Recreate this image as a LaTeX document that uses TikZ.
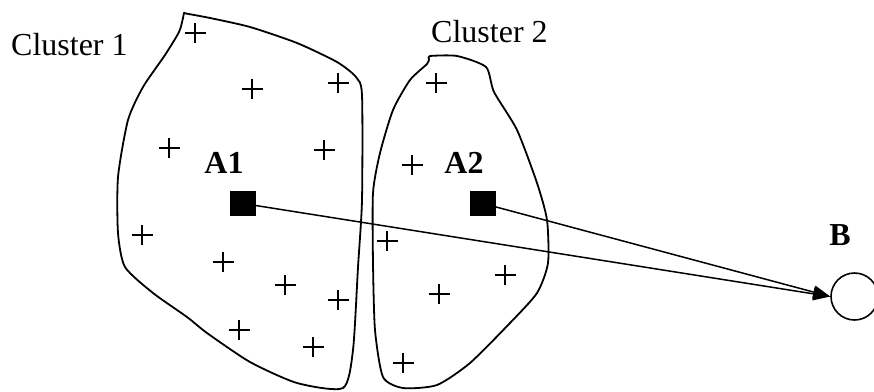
\documentclass[tikz,border=0pt]{standalone}
\usepackage{fontspec}
\setmainfont{Liberation Serif}
\usetikzlibrary{arrows.meta}
\begin{document}
\begin{tikzpicture}[x=1pt,y=-1pt,
  outline/.style={line width=1.8pt, line join=round},
  plusmark/.style={line width=1.3pt},
  lbl/.style={inner sep=0pt, anchor=base, font=\fontsize{32}{38}\selectfont},
  blbl/.style={lbl, font=\fontsize{32}{38}\selectfont\bfseries},
  centroid/.style={fill=black, draw=none, minimum size=25.5pt, inner sep=0pt},
  target/.style={circle, draw, line width=1.6pt, minimum size=47pt, inner sep=0pt},
  link/.style={line width=1.5pt, -{Triangle[length=17pt,width=13pt]}, shorten >=0pt}]
\useasboundingbox (0,0) rectangle (874,391);
% cluster outlines
\draw[outline] plot[smooth cycle, tension=0.4] coordinates {
 (184,13) (186,13.5) (210,18) (250,27) (297,43) (337,62) (356,77) (362,95) (362,200)
 (358,267) (353,350) (343,388) (297,383) (250,362) (207,333) (187,317)
 (153,293) (125,267) (118,233) (118,177) (128,120) (143,87) (165,55) (179,32) (183,18)};
\draw[outline] plot[smooth cycle, tension=0.4] coordinates {
 (430,56) (457,56) (486,67) (494,92) (517,130) (537,183) (547,220) (548,263)
 (537,293) (510,323) (470,363) (437,385) (403,388) (383,377) (375,330)
 (373,263) (373,193) (380,153) (393,110) (410,80) (427,64) (429,59)};
% data points
\foreach \p in {(195,33),(252,89),(338,83),(169,148),(324,150),(142,235),
  (223,262),(285,285),(338,300),(239,330),(313,347),
  (436,83),(412,165),(387,241),(505,275),(439,294),(403,363)}
  \draw[plusmark] \p +(-10.5,0) -- +(10.5,0) \p +(0,-10) -- +(0,10);
% labels
\node[lbl, anchor=base west] (c1) at (11,55) {Cluster 1};
\node[lbl, anchor=base west] (c2) at (431,42) {Cluster 2};
\node[blbl] (la1) at (224,173) {A1};
\node[blbl] (la2) at (464,173) {A2};
\node[blbl] (lb) at (840,245) {B};
% centroids and target
\node[centroid] (a1) at (243,203.5) {};
\node[centroid] (a2) at (483,203.5) {};
\node[target] (b) at (854.5,296.5) {};
\draw[link] (a1) -- (b.west);
\draw[link] (a2) -- (b.west);
\end{tikzpicture}
\end{document}
